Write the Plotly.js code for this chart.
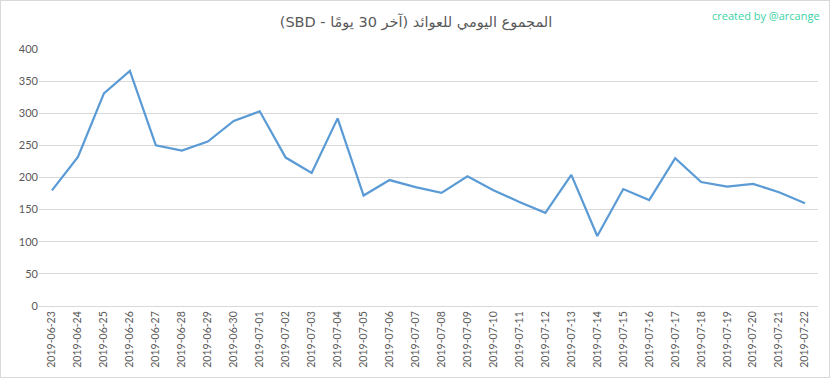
<!DOCTYPE html>
<html>
<head>
<meta charset="utf-8">
<script src="https://cdn.plot.ly/plotly-3.0.1.min.js"></script>
<style>
html,body{margin:0;padding:0;background:#fff;}
#wrap{position:relative;width:833px;height:379px;}
#chart{position:absolute;left:0;top:0;width:833px;height:379px;}
#frame{position:absolute;left:0;top:0;width:828px;height:376px;border:1px solid #d9d9d9;pointer-events:none;}
</style>
</head>
<body>
<div id="wrap"><div id="chart"></div><div id="frame"></div></div>
<script>
const dates = ["2019-06-23","2019-06-24","2019-06-25","2019-06-26","2019-06-27","2019-06-28","2019-06-29","2019-06-30","2019-07-01","2019-07-02","2019-07-03","2019-07-04","2019-07-05","2019-07-06","2019-07-07","2019-07-08","2019-07-09","2019-07-10","2019-07-11","2019-07-12","2019-07-13","2019-07-14","2019-07-15","2019-07-16","2019-07-17","2019-07-18","2019-07-19","2019-07-20","2019-07-21","2019-07-22"];
const values = [180,232,331,366,250,242,256,288,303,231,207,292,172,196,185,176,202,180,162,145,204,109,182,165,230,193,186,190,177,160];
const yTicks = [0,50,100,150,200,250,300,350,400];
const titleText = "المجموع اليومي للعوائد (آخر 30 يومًا - SBD)";
const creditText = "created by @arcange";

const font = "Lato, 'DejaVu Sans', sans-serif";
const trace = {
  type: "scatter", mode: "lines",
  x: dates, y: values,
  line: {color: "#5b9bd5", width: 2.25},
  hoverinfo: "x+y"
};
const layout = {
  width: 833, height: 379,
  margin: {l: 39, r: 15, t: 49, b: 73},
  paper_bgcolor: "#fff", plot_bgcolor: "#fff",
  showlegend: false,
  font: {family: font, color: "#595959"},
  title: {text: "\u202B" + titleText + "\u202C", x: 0.484, xref: "paper", y: 0.943, yanchor: "middle",
          font: {family: "'DejaVu Sans', sans-serif", size: 14.5, color: "#595959"}},
  xaxis: {
    type: "category", range: [-0.5, dates.length - 0.5],
    tickangle: -90, tickfont: {size: 10.5, color: "#595959"},
    showgrid: false, zeroline: false,
    showline: true, linecolor: "#d9d9d9", linewidth: 1,
    ticks: "", ticklen: 0
  },
  yaxis: {
    range: [0, 400], tickvals: yTicks, ticktext: yTicks.map(String),
    tickfont: {size: 11, color: "#595959"},
    showgrid: true, gridcolor: "#d9d9d9", gridwidth: 1,
    zeroline: false, showline: false, ticks: "", ticklen: 0
  },
  annotations: [{
    text: creditText, xref: "paper", yref: "paper",
    x: 1.005, y: 1.13, xanchor: "right", yanchor: "middle", showarrow: false,
    font: {family: "'Open Sans', sans-serif", size: 11, color: "#3ad4a6"}
  }]
};
Plotly.newPlot("chart", [trace], layout, {displayModeBar: false, staticPlot: true});
</script>
</body>
</html>
